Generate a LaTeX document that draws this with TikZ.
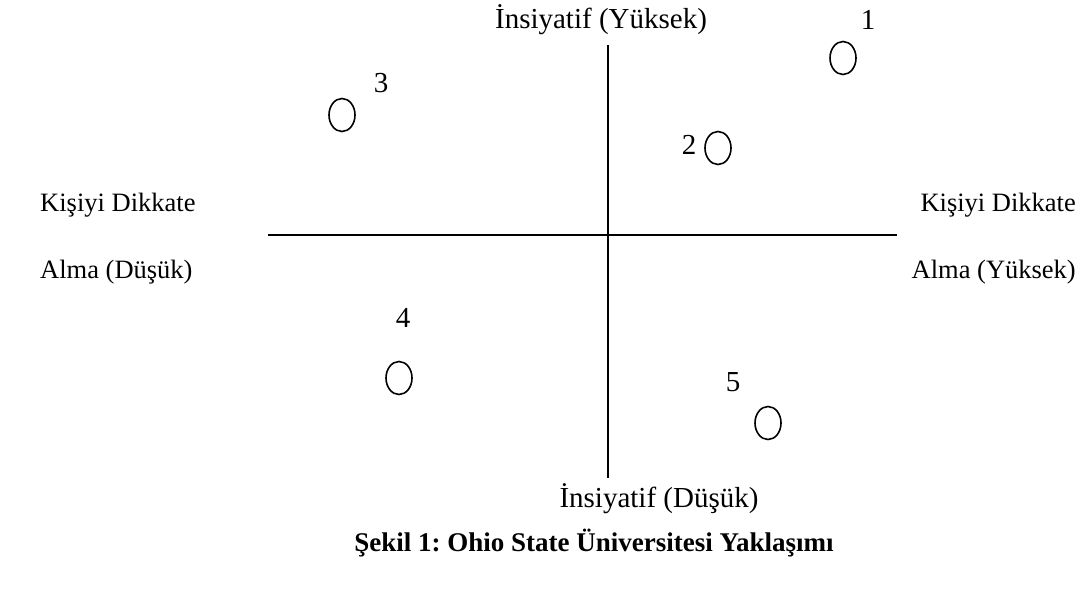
\documentclass[tikz,border=0pt]{standalone}
\usepackage{fontspec}
\setmainfont{Liberation Serif}
\frenchspacing
\usetikzlibrary{shapes.geometric}
\tikzset{
  dot/.style={draw=black, line width=1.6pt, ellipse, inner sep=0pt, minimum width=26pt, minimum height=33pt},
  lbl/.style={inner sep=0pt, font=\fontsize{29}{34}\selectfont},
  side/.style={inner sep=0pt, font=\fontsize{26.5}{32}\selectfont},
  axis/.style={draw=black, line width=1.8pt}
}
\begin{document}
\begin{tikzpicture}[x=1pt, y=-1pt]
    \useasboundingbox (0,0) rectangle (1083,599);
    % axes
    \coordinate (top) at (608,45);
    \coordinate (bot) at (608,478);
    \coordinate (lft) at (268,235);
    \coordinate (rgt) at (897,235);
    \draw [axis] (top) -- (bot);
    \draw [axis] (lft) -- (rgt);
    % axis labels
    \node [lbl] (inhigh) at (601,20) {İnsiyatif (Yüksek)};
    \node [lbl] (inlow) at (659,499) {İnsiyatif (Düşük)};
    \node [side, anchor=west] (klow1) at (40,205) {Kişiyi Dikkate};
    \node [side, anchor=west] (klow2) at (40,272) {Alma (Düşük)};
    \node [side, anchor=east] (khigh1) at (1076,205) {Kişiyi Dikkate};
    \node [side, anchor=east] (khigh2) at (1076,272) {Alma (Yüksek)};
    % points
    \node [dot] (c1) at (843,58) {};
    \node [lbl] (n1) at (868,20) {1};
    \node [dot] (c2) at (718,148) {};
    \node [lbl] (n2) at (689,145) {2};
    \node [dot] (c3) at (342,115) {};
    \node [lbl] (n3) at (381,83) {3};
    \node [dot] (c4) at (399,378) {};
    \node [lbl] (n4) at (403,318) {4};
    \node [dot] (c5) at (768,423) {};
    \node [lbl] (n5) at (733,382) {5};
    % caption
    \node [side, font=\fontsize{27}{32}\selectfont\bfseries] (cap) at (594,543) {Şekil 1: Ohio State Üniversitesi Yaklaşımı};
\end{tikzpicture}
\end{document}
